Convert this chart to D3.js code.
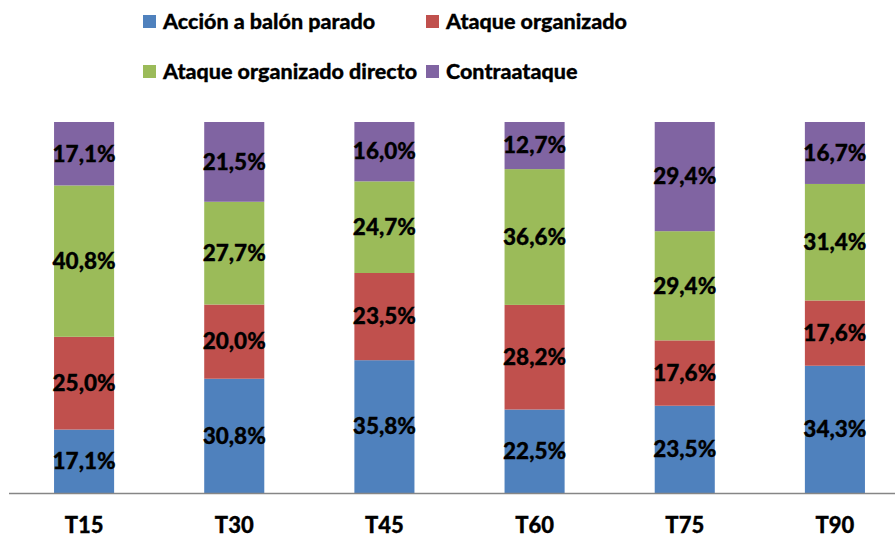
<!DOCTYPE html>
<html><head><meta charset="utf-8">
<script src="https://cdn.jsdelivr.net/npm/d3@7"></script>
<style>body{margin:0;background:#fff}svg{display:block}</style>
</head><body>
<svg id="c" width="895" height="538"></svg>
<script>
const categories = ["T15","T30","T45","T60","T75","T90"];
const seriesNames = ["Acción a balón parado","Ataque organizado","Ataque organizado directo","Contraataque"];
const balonParado = [17.1,30.8,35.8,22.5,23.5,34.3];
const ataqueOrganizado = [25.0,20.0,23.5,28.2,17.6,17.6];
const ataqueDirecto = [40.8,27.7,24.7,36.6,29.4,31.4];
const contraataque = [17.1,21.5,16.0,12.7,29.4,16.7];
const colors = ["#4F81BD","#C0504D","#9BBB59","#8064A2"];

const allSeries = [balonParado, ataqueOrganizado, ataqueDirecto, contraataque];
const rows = categories.map((c,i)=>{const r={cat:c}; seriesNames.forEach((s,j)=>r[s]=allSeries[j][i]); return r;});
const stack = d3.stack().keys(seriesNames).offset(d3.stackOffsetExpand);
const stacked = stack(rows);

const svg = d3.select("#c");
const font = "Lato, 'Open Sans', sans-serif";
const x = d3.scaleBand().domain(categories).range([9,910]).paddingInner(0.6).paddingOuter(0.3);
const y = d3.scaleLinear().domain([0,1]).range([493,122]);

const g = svg.append("g");
stacked.forEach((layer,j)=>{
  g.selectAll(null).data(layer).enter().append("rect")
    .attr("x",d=>x(d.data.cat)).attr("width",x.bandwidth())
    .attr("y",d=>y(d[1])).attr("height",d=>y(d[0])-y(d[1]))
    .attr("fill",colors[j]);
});
stacked.forEach((layer,j)=>{
  g.selectAll(null).data(layer).enter().append("text")
    .attr("x",d=>x(d.data.cat)+x.bandwidth()/2)
    .attr("y",d=>(y(d[0])+y(d[1]))/2+2)
    .attr("text-anchor","middle").attr("dominant-baseline","middle")
    .attr("font-family",font).attr("font-weight",900).attr("font-size",22.5)
    .attr("fill","#000").attr("stroke","#000").attr("stroke-width",0.3)
    .text((d,i)=>allSeries[j][i].toFixed(1).replace(".",",")+"%");
});

// x axis
const ax = svg.append("g").attr("transform","translate(0,493)").call(d3.axisBottom(x).tickSize(0).tickPadding(24));
ax.select(".domain").remove();
svg.append("line").attr("x1",9).attr("x2",895).attr("y1",493.5).attr("y2",493.5).attr("stroke","#868686").attr("stroke-width",1.5);
ax.selectAll("text").attr("font-family",font).attr("font-weight",900).attr("font-size",22).attr("fill","#000")
  .attr("stroke","#000").attr("stroke-width",0.3);

// legend
const legPos = [[143,22],[426,22],[143,72],[426,72]];
seriesNames.forEach((s,j)=>{
  const [lx,ly]=legPos[j];
  svg.append("rect").attr("x",lx).attr("y",ly-7).attr("width",13).attr("height",13).attr("fill",colors[j]);
  svg.append("text").attr("x",lx+20).attr("y",ly+1).attr("dominant-baseline","middle")
    .attr("font-family",font).attr("font-weight",900).attr("font-size",21.5).attr("fill","#000")
    .attr("stroke","#000").attr("stroke-width",0.3).text(s);
});
</script>
</body></html>
